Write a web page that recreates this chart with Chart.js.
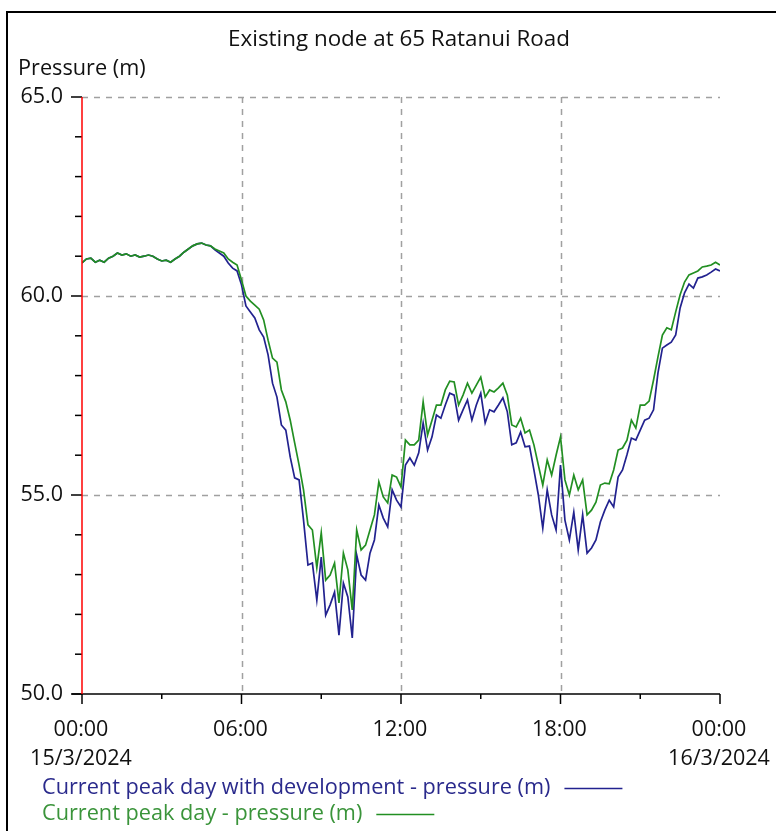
<!DOCTYPE html>
<html lang="en">
<head>
  <meta charset="UTF-8">
  <title>Existing node at 65 Ratanui Road</title>
  <script src="https://cdn.jsdelivr.net/npm/chart.js"></script>
  <style>
    html, body { margin: 0; padding: 0; background: #fff; }
    .janela { position: relative; width: 776px; height: 831px; }
  </style>
</head>
<body>
  <div class="janela">
    <canvas id="graficoPressao"></canvas>
  </div>

<script>
  // 10 minute steps over the day, 0 .. 1440 minutes
  const stepMinutes = 10;
  const minutos = [];
  for (let i = 0; i <= 144; i++) minutos.push(i * stepMinutes);

  const xTicksHoras = [0, 3, 6, 9, 12, 15, 18, 21, 24];
  const xMajorHoras = [0, 6, 12, 18, 24];
  const xTickLabels = ['00:00', '06:00', '12:00', '18:00', '00:00'];
  const xDateLabels = ['15/3/2024', '', '', '', '16/3/2024'];
  const yMajor = [65, 60, 55, 50];
  const yMinor = [64, 63, 62, 61, 59, 58, 57, 56, 54, 53, 52, 51];

  const tituloTexto = 'Existing node at 65 Ratanui Road';
  const eixoYTexto = 'Pressure (m)';
  const serieNomes = ['Current peak day with development - pressure (m)', 'Current peak day - pressure (m)'];

  // Current peak day with development (blue)
  const pressaoComDesenv = [
    60.83, 60.93, 60.95, 60.85, 60.90, 60.85, 60.95, 61.00, 61.08, 61.03,
    61.06, 61.00, 61.03, 60.98, 61.00, 61.03, 61.00, 60.93, 60.88, 60.90,
    60.85, 60.93, 61.00, 61.10, 61.18, 61.26, 61.31, 61.33, 61.28, 61.26,
    61.16, 61.08, 61.00, 60.83, 60.70, 60.63, 60.28, 59.75, 59.60, 59.45,
    59.15, 58.97, 58.52, 57.81, 57.46, 56.76, 56.63, 55.95, 55.43, 55.38,
    54.37, 53.24, 53.29, 52.36, 53.44, 51.98, 52.24, 52.56, 51.48, 52.79,
    52.44, 51.41, 53.49, 52.99, 52.86, 53.54, 53.87, 54.75, 54.42, 54.20,
    55.13, 54.87, 54.70, 55.75, 55.93, 55.75, 56.06, 56.81, 56.13, 56.46,
    57.01, 56.93, 57.26, 57.56, 57.51, 56.88, 57.14, 57.39, 56.88, 57.26,
    57.56, 56.81, 57.14, 57.09, 57.26, 57.44, 57.09, 56.26, 56.31, 56.58,
    56.21, 56.23, 55.63, 55.00, 54.17, 55.13, 54.50, 54.12, 55.75, 54.37,
    53.87, 54.57, 53.62, 54.50, 53.54, 53.67, 53.87, 54.32, 54.62, 54.87,
    54.70, 55.45, 55.63, 56.01, 56.43, 56.38, 56.63, 56.88, 56.93, 57.14,
    58.07, 58.69, 58.77, 58.84, 59.02, 59.70, 60.08, 60.30, 60.20, 60.45,
    60.48, 60.53, 60.60, 60.68, 60.63
  ];

  // Current peak day (green)
  const pressaoAtual = [
    60.83, 60.93, 60.95, 60.85, 60.90, 60.85, 60.95, 61.00, 61.08, 61.03,
    61.06, 61.00, 61.03, 60.98, 61.00, 61.03, 61.00, 60.93, 60.88, 60.90,
    60.85, 60.93, 61.00, 61.10, 61.18, 61.26, 61.31, 61.33, 61.28, 61.26,
    61.18, 61.13, 61.08, 60.93, 60.85, 60.78, 60.40, 60.00, 59.87, 59.77,
    59.67, 59.40, 58.89, 58.44, 58.34, 57.64, 57.34, 56.88, 56.31, 55.75,
    55.13, 54.25, 54.12, 53.17, 54.05, 52.86, 52.99, 53.29, 52.29, 53.54,
    53.12, 52.11, 54.12, 53.62, 53.74, 54.12, 54.50, 55.33, 54.95, 54.80,
    55.50, 55.45, 55.20, 56.38, 56.26, 56.26, 56.38, 57.34, 56.51, 56.88,
    57.26, 57.26, 57.64, 57.86, 57.84, 57.26, 57.51, 57.81, 57.56, 57.76,
    57.96, 57.46, 57.64, 57.59, 57.69, 57.81, 57.51, 56.76, 56.71, 56.93,
    56.56, 56.63, 56.26, 55.75, 55.25, 55.88, 55.50, 56.00, 56.46, 55.38,
    55.00, 55.50, 55.13, 55.38, 54.50, 54.62, 54.82, 55.25, 55.30, 55.28,
    55.63, 56.13, 56.18, 56.38, 56.88, 56.68, 57.26, 57.26, 57.36, 57.89,
    58.47, 59.02, 59.20, 59.15, 59.60, 60.03, 60.35, 60.53, 60.58, 60.63,
    60.73, 60.75, 60.78, 60.85, 60.78
  ];

  const corAzul = '#22228f';
  const corVerde = '#228f22';
  const fonte = '"Open Sans", "Noto Sans", sans-serif';

  function pontos(valores) {
    return valores.map(function (v, i) { return { x: minutos[i] / 60, y: v }; });
  }

  // grade tracejada, desenhada antes das linhas
  const gradePlugin = {
    id: 'grade',
    beforeDatasetsDraw(chart) {
      const ctx = chart.ctx;
      const x = chart.scales.x, y = chart.scales.y;
      const a = chart.chartArea;
      ctx.save();
      ctx.strokeStyle = '#a0a0a0';
      ctx.lineWidth = 1.5;
      ctx.setLineDash([6, 6]);
      [65, 60, 55].forEach(function (v) {
        const py = Math.round(y.getPixelForValue(v)) + 0.5;
        ctx.beginPath(); ctx.moveTo(a.left, py); ctx.lineTo(a.right, py); ctx.stroke();
      });
      [6, 12, 18].forEach(function (h) {
        const px = Math.round(x.getPixelForValue(h)) + 0.5;
        ctx.beginPath(); ctx.moveTo(px, a.top); ctx.lineTo(px, a.bottom); ctx.stroke();
      });
      ctx.restore();
    }
  };

  // eixos, textos, legenda e moldura
  const textoPlugin = {
    id: 'textos',
    afterDatasetsDraw(chart) {
      const ctx = chart.ctx;
      const x = chart.scales.x, y = chart.scales.y;
      const a = chart.chartArea;
      ctx.save();

      // eixo x preto
      ctx.strokeStyle = '#000';
      ctx.lineWidth = 1.5;
      ctx.beginPath(); ctx.moveTo(a.left - 10, a.bottom); ctx.lineTo(a.right, a.bottom); ctx.stroke();
      xTicksHoras.forEach(function (h) {
        const px = x.getPixelForValue(h);
        const len = xMajorHoras.indexOf(h) >= 0 ? 10 : 5;
        ctx.beginPath(); ctx.moveTo(px, a.bottom); ctx.lineTo(px, a.bottom + len); ctx.stroke();
      });
      // ticks y
      yMajor.forEach(function (v) {
        const py = y.getPixelForValue(v);
        ctx.beginPath(); ctx.moveTo(a.left - 11, py); ctx.lineTo(a.left, py); ctx.stroke();
      });
      yMinor.forEach(function (v) {
        const py = y.getPixelForValue(v);
        ctx.beginPath(); ctx.moveTo(a.left - 7, py); ctx.lineTo(a.left, py); ctx.stroke();
      });
      // eixo y vermelho
      ctx.strokeStyle = '#ff0000';
      ctx.beginPath(); ctx.moveTo(a.left, a.top); ctx.lineTo(a.left, a.bottom); ctx.stroke();

      // rotulos numericos
      ctx.fillStyle = '#111';
      ctx.font = '21.5px ' + fonte;
      ctx.textBaseline = 'middle';
      ctx.textAlign = 'right';
      yMajor.forEach(function (v) {
        ctx.fillText(v.toFixed(1), a.left - 19, y.getPixelForValue(v));
      });
      ctx.textAlign = 'center';
      xMajorHoras.forEach(function (h, i) {
        const px = x.getPixelForValue(h);
        ctx.fillText(xTickLabels[i], px - 1, 730);
        if (xDateLabels[i]) ctx.fillText(xDateLabels[i], px - 1, 759);
      });

      // titulo e eixo y
      ctx.font = '22.4px ' + fonte;
      ctx.fillText(tituloTexto, 399, 40);
      ctx.font = '21.7px ' + fonte;
      ctx.textAlign = 'left';
      ctx.fillText(eixoYTexto, 18, 69);

      // legenda
      const cores = [corAzul, corVerde];
      const coresTexto = ['#2a2a8c', '#3a943a'];
      serieNomes.forEach(function (nome, i) {
        const ly = 788 + i * 26;
        ctx.fillStyle = coresTexto[i];
        ctx.fillText(nome, 42, ly);
        const fim = 42 + ctx.measureText(nome).width + 14;
        ctx.strokeStyle = cores[i];
        ctx.lineWidth = 1.5;
        ctx.beginPath(); ctx.moveTo(fim, ly + 0.5); ctx.lineTo(fim + 58, ly + 0.5); ctx.stroke();
      });

      // moldura
      ctx.strokeStyle = '#000';
      ctx.lineWidth = 2;
      ctx.beginPath(); ctx.moveTo(7, 840); ctx.lineTo(7, 12); ctx.lineTo(790, 12); ctx.stroke();
      ctx.restore();
    }
  };

  const dados = {
    datasets: [{
      label: serieNomes[0],
      data: pontos(pressaoComDesenv),
      borderColor: corAzul,
      borderWidth: 1.7,
      pointRadius: 0,
      tension: 0,
      order: 1
    }, {
      label: serieNomes[1],
      data: pontos(pressaoAtual),
      borderColor: corVerde,
      borderWidth: 1.7,
      pointRadius: 0,
      tension: 0,
      order: 0
    }]
  };

  const config = {
    type: 'line',
    data: dados,
    options: {
      responsive: true,
      maintainAspectRatio: false,
      animation: false,
      layout: { padding: { left: 82, top: 97, right: 56, bottom: 137 } },
      plugins: { legend: { display: false }, title: { display: false }, tooltip: { enabled: false } },
      scales: {
        x: { type: 'linear', min: 0, max: 24, display: false },
        y: { type: 'linear', min: 50, max: 65, display: false }
      }
    },
    plugins: [gradePlugin, textoPlugin]
  };

  new Chart(document.getElementById('graficoPressao'), config);
</script>
</body>
</html>
